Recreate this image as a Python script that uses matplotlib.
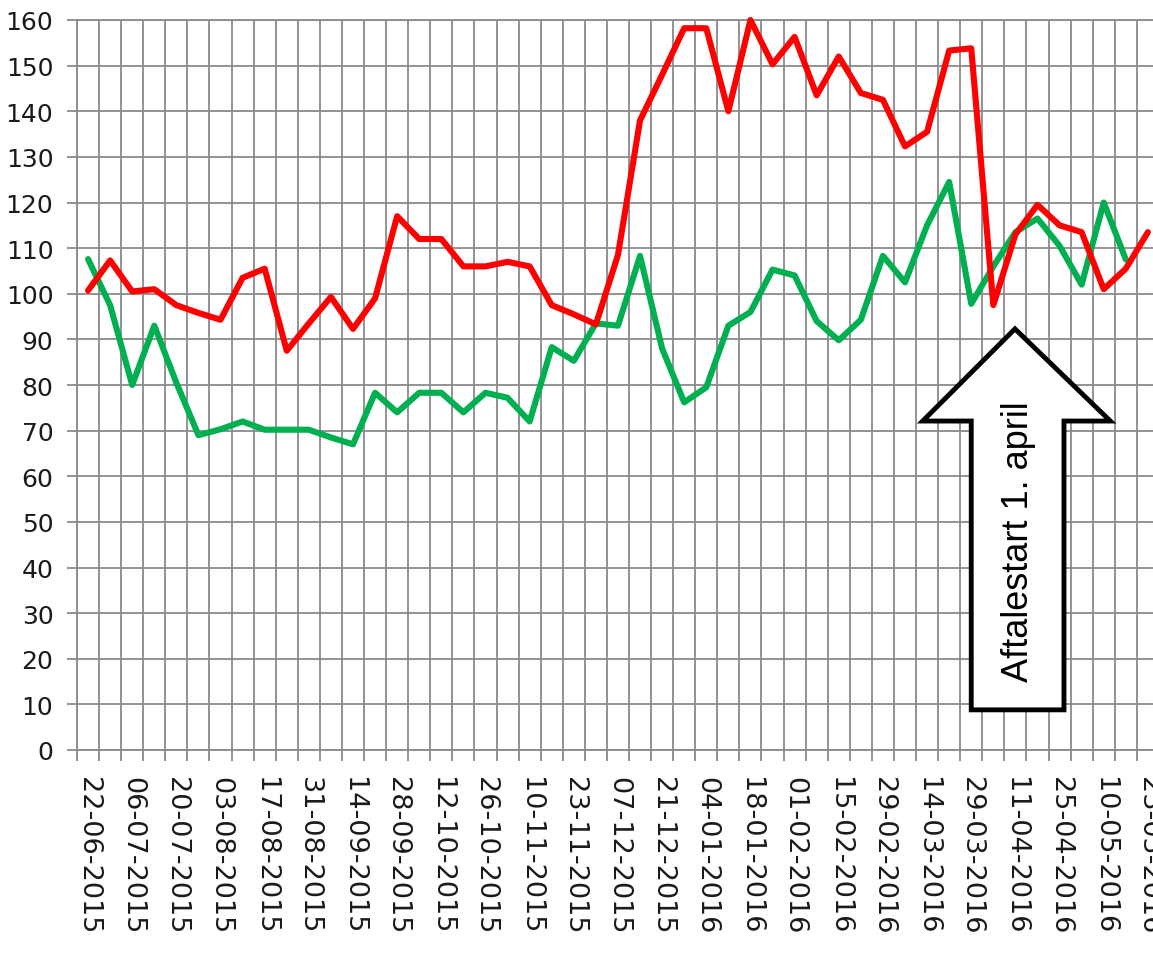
import numpy as np
import matplotlib
matplotlib.use("Agg")
import matplotlib.pyplot as plt
from matplotlib.patches import Polygon

# ---- data ----
tick_labels = ["22-06-2015", "06-07-2015", "20-07-2015", "03-08-2015", "17-08-2015",
               "31-08-2015", "14-09-2015", "28-09-2015", "12-10-2015", "26-10-2015",
               "10-11-2015", "23-11-2015", "07-12-2015", "21-12-2015", "04-01-2016",
               "18-01-2016", "01-02-2016", "15-02-2016", "29-02-2016", "14-03-2016",
               "29-03-2016", "11-04-2016", "25-04-2016", "10-05-2016", "23-05-2016"]
n_weeks = 49

red_values = [100.7, 107.3, 100.5, 101, 97.5, 95.8, 94.3, 103.5, 105.5, 87.5,
              93.5, 99.3, 92.3, 99, 117, 112, 112, 106, 106, 107,
              106, 97.5, 95.5, 93.3, 108.5, 138, 148, 158.2, 158.2, 140,
              160, 150.3, 156.3, 143.5, 152, 144, 142.5, 132.3, 135.5, 153.3,
              153.8, 97.5, 113, 119.5, 115, 113.5, 101, 105.5, 113.5]

green_values = [107.6, 97.5, 80, 93, 80.5, 69, 70.3, 72, 70.2, 70.2,
                70.2, 68.5, 67, 78.3, 74, 78.3, 78.3, 74, 78.3, 77.2,
                72, 88.3, 85.3, 93.5, 93, 108.3, 88, 76.2, 79.5, 93,
                96, 105.3, 104, 94, 89.8, 94.3, 108.3, 102.5, 115, 124.5,
                97.8, 106, 113.5, 116.5, 110.5, 102, 120, 107.5]

annotation_text = "Aftalestart 1. april"

# ---- figure ----
W, H = 1153, 954
fig = plt.figure(figsize=(W / 100, H / 100), dpi=100)
left_px, right_px, top_px, bottom_px = 77, 77 + 49 * 22.08, 21, 751
ax = fig.add_axes([left_px / W, 1 - bottom_px / H,
                   (right_px - left_px) / W, (bottom_px - top_px) / H])

grid_c = "#8a8a8a"
x_red = np.arange(len(red_values))
x_green = np.arange(len(green_values))

ax.plot(x_green, green_values, color="#00B050", lw=4.4, solid_joinstyle="round",
        solid_capstyle="round", zorder=3, clip_on=False)
ax.plot(x_red, red_values, color="#FF0000", lw=4.4, solid_joinstyle="round",
        solid_capstyle="round", zorder=4, clip_on=False)

ax.set_xlim(-0.5, n_weeks - 0.5)
ax.set_ylim(0, 160)

# y axis
ax.set_yticks(np.arange(0, 161, 10))
ax.tick_params(axis="y", which="major", length=7, width=1.3, color=grid_c,
               direction="out", pad=10, labelsize=18, labelcolor="#1a1a1a")
ax.yaxis.grid(True, color=grid_c, lw=1.3)

# x axis: gridlines/ticks at category boundaries, labels at every 2nd category
ax.set_xticks(np.arange(0, n_weeks, 2))
ax.set_xticklabels(tick_labels, rotation=-90, ha="center", va="top",
                   fontsize=19.5, color="#1a1a1a")
ax.set_xticks(np.arange(-0.5, n_weeks, 1), minor=True)
ax.tick_params(axis="x", which="major", length=0, pad=19)
ax.tick_params(axis="x", which="minor", length=8, width=1.3, color=grid_c,
               direction="out")
ax.xaxis.grid(True, which="minor", color=grid_c, lw=1.3)
ax.set_axisbelow(True)

for s in ax.spines.values():
    s.set_color(grid_c)
    s.set_linewidth(1.3)

# ---- block arrow annotation (data coords) ----
tip_x, tip_y = 41.98, 92.3
head_l, head_r, head_y = 37.8, 46.3, 72.1
shaft_l, shaft_r, shaft_b = 40.0, 44.2, 8.8
poly = Polygon([(tip_x, tip_y), (head_r, head_y), (shaft_r, head_y),
                (shaft_r, shaft_b), (shaft_l, shaft_b), (shaft_l, head_y),
                (head_l, head_y)], closed=True, facecolor="white",
               edgecolor="black", lw=3.5, joinstyle="miter", zorder=6,
               clip_on=False)
ax.add_patch(poly)
ax.text((shaft_l + shaft_r) / 2 + 0.05, 45.8, annotation_text, rotation=90,
        ha="center", va="center", fontsize=26, family="Liberation Sans",
        color="black", zorder=7)

fig.savefig("out.png", dpi=100)
